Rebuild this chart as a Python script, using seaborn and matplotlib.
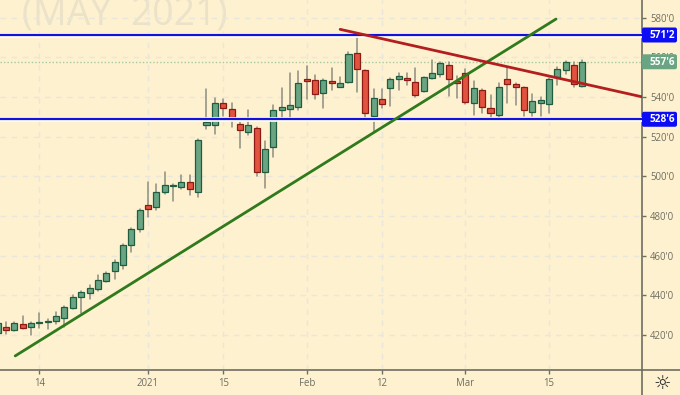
import matplotlib
matplotlib.use('Agg')
import matplotlib.pyplot as plt
import matplotlib.patheffects as pe
from matplotlib.patches import FancyBboxPatch
from matplotlib.transforms import Affine2D, IdentityTransform
import numpy as np
import pandas as pd
import seaborn as sns

# candle data, position 0 = first session of 2021
idx = list(range(-18, 53))
opens = [420.9, 424.2, 422.4, 425.6, 424.2, 426.1, 426.6, 426.9, 428.3, 433.8, 439.0, 441.0, 443.4, 447.1, 452.1, 455.5, 465.4, 473.6,
         485.5, 484.5, 492.2, 495.0, 494.5, 497.0, 492.2, 526.0, 525.7, 536.8, 533.8, 526.2, 522.3, 524.2, 502.3, 514.9, 533.3, 533.8,
         535.1, 549.1, 548.4, 542.2, 548.1, 545.2, 547.6, 562.2, 553.5, 530.3, 538.8, 544.4, 548.9, 549.4, 547.6, 542.9, 549.7, 551.7,
         556.3, 548.2, 552.2, 537.1, 543.5, 534.3, 530.8, 548.9, 546.7, 544.9, 532.6, 537.0, 536.6, 550.2, 553.5, 556.3, 545.7]
closes = [426.2, 422.4, 426.2, 423.7, 426.2, 426.6, 427.1, 429.3, 434.3, 439.0, 441.7, 443.9, 447.6, 451.3, 456.6, 465.4, 473.6, 482.9,
          483.5, 491.9, 495.5, 495.5, 497.0, 493.6, 518.3, 527.4, 537.1, 534.3, 528.2, 523.5, 525.7, 502.3, 513.8, 533.4, 534.8, 535.8,
          547.2, 547.9, 541.7, 548.6, 547.1, 547.2, 561.8, 554.0, 532.1, 539.3, 536.3, 549.2, 550.4, 548.4, 541.2, 549.9, 552.2, 557.0,
          549.2, 547.2, 537.6, 544.4, 534.8, 532.1, 544.9, 546.7, 545.2, 533.4, 538.0, 538.5, 549.1, 554.0, 557.6, 546.4, 557.75]
highs = [427.0, 426.7, 426.6, 429.6, 426.7, 430.9, 427.9, 431.3, 434.6, 440.0, 442.2, 445.1, 450.4, 451.8, 457.6, 465.9, 473.9, 483.4,
         497.1, 496.1, 502.2, 496.1, 500.7, 500.7, 518.7, 543.9, 539.5, 539.1, 536.8, 527.5, 533.3, 524.7, 517.7, 535.8, 544.5, 551.9,
         553.3, 555.6, 551.2, 548.9, 554.6, 549.9, 562.8, 571.25, 553.8, 544.0, 544.0, 549.6, 551.9, 551.9, 554.6, 550.2, 558.6, 557.6,
         557.6, 550.6, 554.0, 548.2, 543.9, 541.0, 547.2, 554.6, 546.9, 545.2, 541.4, 539.8, 549.4, 555.0, 558.0, 557.6, 558.6]
lows = [420.0, 420.5, 422.2, 422.9, 420.0, 423.6, 423.0, 425.7, 424.2, 433.1, 430.9, 438.2, 441.9, 446.9, 448.2, 453.3, 462.0, 472.1,
        479.3, 483.0, 491.2, 487.7, 493.4, 490.7, 489.7, 523.7, 521.3, 530.4, 525.0, 514.4, 521.0, 500.3, 493.9, 509.9, 529.9, 528.8,
        533.4, 539.1, 539.0, 534.6, 543.7, 544.9, 547.2, 542.4, 528.7, 522.5, 534.3, 535.5, 543.7, 546.2, 539.8, 542.5, 549.2, 549.9,
        540.5, 539.3, 536.6, 530.9, 532.1, 529.0, 528.7, 536.8, 536.0, 530.4, 530.6, 530.6, 532.1, 546.2, 551.6, 544.9, 545.0]

# trend lines and levels
green_x = [-15.9, 48.84]
green_y = [409.4, 579.3]
red_x = [23.0, 59.1]
red_y = [574.1, 540.1]
level_hi = 571.25
level_lo = 528.75
last_price = 557.75

# axis labels
x_ticks = [-13, 0, 9, 19, 28, 38, 48]
x_labels = ['14', '2021', '15', 'Feb', '12', 'Mar', '15']
y_ticks = [420, 440, 460, 480, 500, 520, 540, 560, 580]
y_labels = ["420'0", "440'0", "460'0", "480'0", "500'0", "520'0", "540'0", "560'0", "580'0"]

BG = '#fef1cf'
GRAY = '#6e6e62'
GRID = '#e9e6dc'

sns.set_style('white', {'axes.facecolor': BG, 'figure.facecolor': BG})
plt.rcParams['font.family'] = ['Open Sans', 'DejaVu Sans']

df = pd.DataFrame({'idx': idx, 'open': opens, 'close': closes, 'high': highs, 'low': lows})
df['up'] = df['close'] >= df['open']
wicks = df.melt(id_vars='idx', value_vars=['high', 'low'], value_name='price')

fig = plt.figure(figsize=(6.8, 3.95), dpi=100)
ax = fig.add_axes([0, 25 / 395, 641.7 / 680, 370 / 395])
ax.set_xlim(-17.72, 59.1)
ax.set_ylim(402.3, 588.9)
ax.yaxis.tick_right()
ax.set_axisbelow(True)

# pixel coordinates from the top left corner
px = Affine2D().scale(1, -1).translate(0, 395)

# watermark, cut off by the top edge
ax.text(227, 24, 'S   (MAY  2021)', transform=px, ha='right', va='baseline', fontsize=27, color='#ebe2c8', zorder=0.5)

# candles
sns.lineplot(data=wicks, x='idx', y='price', units='idx', estimator=None, color='#8d8d82', lw=1.1, ax=ax, zorder=2, legend=False)
up = df[df['up']]
down = df[~df['up']]
ax.bar(up['idx'], up['close'] - up['open'], bottom=up['open'], width=0.72, color='#6aa583', edgecolor='#1f5c40', linewidth=0.9, zorder=3)
ax.bar(down['idx'], down['open'] - down['close'], bottom=down['close'], width=0.72, color='#e2533f', edgecolor='#8c1a14', linewidth=0.9, zorder=3)

# levels
halo = [pe.Stroke(linewidth=3.4, foreground='#fffdf4'), pe.Normal()]
ax.axhline(level_hi, color='#1212dc', lw=1.6, zorder=4, path_effects=halo)
ax.axhline(level_lo, color='#1212dc', lw=1.6, zorder=4, path_effects=halo)
ax.axhline(last_price, color='#a5c9a0', lw=1.0, ls=(0, (1, 1.5)), zorder=1.5)

# trend lines
sns.lineplot(x=green_x, y=green_y, color='#2f7a1c', lw=2.0, ax=ax, zorder=5, legend=False)
sns.lineplot(x=red_x, y=red_y, color='#b31e1e', lw=2.0, ax=ax, zorder=5, legend=False)

ax.set_xlabel('')
ax.set_ylabel('')
ax.set_xticks(x_ticks)
ax.set_xticklabels(x_labels)
ax.set_yticks(y_ticks)
ax.set_yticklabels(y_labels)
ax.grid(True, color=GRID, lw=1.0, ls=(0, (4, 4)))
ax.tick_params(axis='x', length=3, width=1, color=GRAY, labelcolor=GRAY, labelsize=6.9, pad=3, bottom=True)
ax.tick_params(axis='y', length=3, width=1, color=GRAY, labelcolor=GRAY, labelsize=6.9, pad=3, right=True)

for side in ['top', 'left']:
    ax.spines[side].set_visible(False)
for side in ['bottom', 'right']:
    ax.spines[side].set_color(GRAY)
    ax.spines[side].set_linewidth(1.2)
# scales run on into the corner
ax.plot([1, 680 / 641.7], [0, 0], transform=ax.transAxes, color=GRAY, lw=1.2, clip_on=False)
ax.plot([1, 1], [0, -25 / 370], transform=ax.transAxes, color=GRAY, lw=1.2, clip_on=False)

# price labels
for val, txt, col in [(level_hi, "571'2", '#0c0cf5'), (level_lo, "528'6", '#0c0cf5'), (last_price, "557'6", '#6aa583')]:
    yc = ax.transData.transform((0, val))[1]
    fig.patches.append(FancyBboxPatch((642, yc - 7.5), 35, 15, boxstyle='round,pad=0,rounding_size=2', fc=col, ec='none',
                                      transform=IdentityTransform(), figure=fig, zorder=6))
    fig.text(650, yc - 0.5, txt, transform=IdentityTransform(), ha='left', va='center', fontsize=7.2, fontweight='bold',
             color='white', zorder=7)

# settings icon
fig.text(662 / 680, 12 / 395, '\u263c', ha='center', va='center', fontsize=14, color='#222222', family='DejaVu Sans')

fig.savefig('out.png', dpi=100, facecolor=BG)
